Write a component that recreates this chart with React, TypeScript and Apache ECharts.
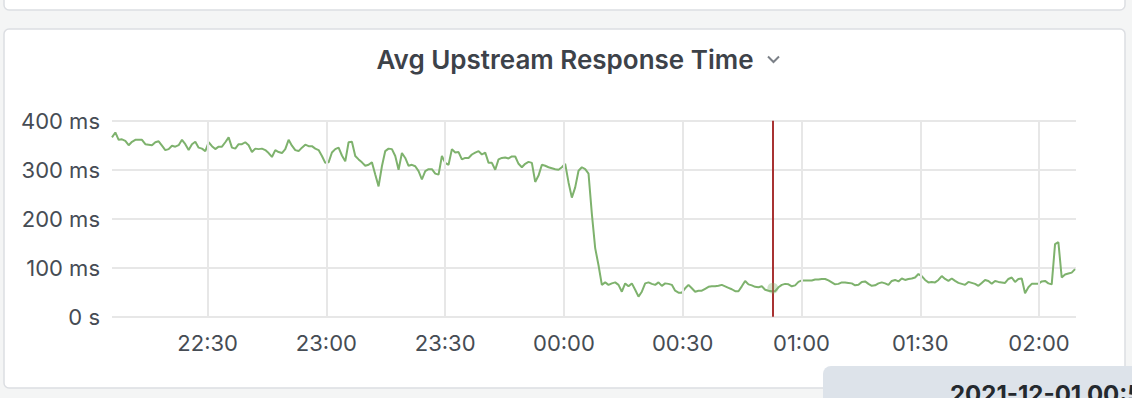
import React, { useEffect, useRef } from "react";
import * as echarts from "echarts";

const panelTitle = "Avg Upstream Response Time";
const seriesName = "Avg Upstream Response Time";
const tooltipTime = "2021-12-01 00:52:46";

// sampling of the series (uniform scrape interval)
const startTime = Date.UTC(2021, 10, 30, 22, 5, 51);
const sampleStepMs = 50500;
const axisEnd = Date.UTC(2021, 11, 1, 2, 9, 20);

// vertical grid / tick times
const gridTimes = [
  Date.UTC(2021, 10, 30, 22, 30),
  Date.UTC(2021, 10, 30, 23, 0),
  Date.UTC(2021, 10, 30, 23, 30),
  Date.UTC(2021, 11, 1, 0, 0),
  Date.UTC(2021, 11, 1, 0, 30),
  Date.UTC(2021, 11, 1, 1, 0),
  Date.UTC(2021, 11, 1, 1, 30),
  Date.UTC(2021, 11, 1, 2, 0),
];
const annotationTime = Date.UTC(2021, 11, 1, 0, 52, 46);
const hoverValue = 58;

const yMin = 0;
const yMax = 400;
const yStep = 100;

// response time (ms), 22:06 -> 22:56
const seg1 = [
  366, 376, 361, 362, 359, 350, 357, 361, 361, 361,
  352, 351, 350, 356, 358, 349, 340, 342, 349, 347,
  350, 361, 352, 340, 352, 357, 345, 343, 338, 356,
  348, 342, 347, 347, 356, 366, 345, 343, 352, 352,
  356, 350, 336, 343, 342, 343, 340, 334, 326, 340,
  336, 334, 342, 361, 349, 340, 338, 345, 351, 348,
];
// 22:56 -> 23:45
const seg2 = [
  348, 343, 340, 328, 314, 315, 335, 342, 345, 329,
  317, 356, 357, 328, 321, 315, 308, 310, 315, 290,
  266, 307, 338, 343, 342, 328, 300, 334, 324, 308,
  310, 307, 297, 280, 297, 301, 301, 292, 290, 328,
  314, 310, 342, 335, 336, 321, 324, 324, 331, 335,
  338, 331, 335, 314, 314, 300, 321, 324,
];
// 23:45 -> 00:35
const seg3 = [
  325, 323, 327, 327, 312, 305, 312, 316, 314, 275,
  288, 310, 308, 305, 303, 301, 300, 305, 312, 274,
  243, 264, 298, 305, 301, 292, 210, 140, 105, 65,
  70, 65, 68, 70, 65, 51, 68, 62, 68, 55,
  41, 51, 68, 70, 67, 65, 70, 63, 68, 67,
  65, 53, 49, 49, 58, 65, 58, 51, 53,
];
// 00:35 -> 01:22
const seg4 = [
  53, 57, 61, 62, 62, 63, 65, 62, 59, 56,
  52, 52, 62, 73, 66, 64, 61, 60, 62, 55,
  53, 52, 52, 60, 65, 67, 66, 62, 64, 71,
  74, 74, 74, 74, 76, 76, 77, 77, 74, 70,
  66, 67, 70, 70, 69, 68, 64, 65, 71, 72,
  67, 63, 64, 68, 70, 68,
];
// 01:22 -> 02:09
const seg5 = [
  65, 73, 75, 72, 78, 75, 77, 78, 80, 87,
  83, 75, 70, 71, 70, 75, 83, 77, 73, 78,
  73, 69, 67, 65, 71, 69, 67, 63, 69, 75,
  73, 67, 73, 71, 70, 69, 77, 80, 71, 77,
  78, 48, 60, 67, 67, 67, 72, 73, 68, 66,
  148, 152, 80, 86, 88, 90, 97,
];

const responseMs = [...seg1, ...seg2, ...seg3, ...seg4, ...seg5];

const pad = (n: number) => (n < 10 ? "0" + n : "" + n);
const fmtTime = (v: number) => {
  const d = new Date(v);
  return pad(d.getUTCHours()) + ":" + pad(d.getUTCMinutes());
};

export default function App() {
  const ref = useRef<HTMLDivElement>(null);

  useEffect(() => {
    document.body.style.margin = "0";
    if (!ref.current) return;
    const chart = echarts.init(ref.current, undefined, { renderer: "svg" });

    const data = responseMs.map((v, i) => [startTime + i * sampleStepMs, v]);
    const font = "Inter, 'Noto Sans', sans-serif";
    const textColor = "#464c54";
    const gridColor = "#e7e7e7";

    chart.setOption({
      animation: false,
      useUTC: true,
      backgroundColor: "#f4f5f5",
      grid: { left: 112, right: 56, top: 120.7, bottom: 81.3, containLabel: false },
      xAxis: {
        type: "time",
        min: startTime,
        max: axisEnd,
        axisLine: { show: false },
        axisTick: { show: false },
        splitLine: { show: false },
        axisLabel: { show: false },
      },
      yAxis: {
        type: "value",
        min: yMin,
        max: yMax,
        interval: yStep,
        axisLine: { show: false },
        axisTick: { show: false },
        splitLine: { show: true, lineStyle: { color: gridColor, width: 2 } },
        axisLabel: {
          color: textColor,
          fontSize: 22,
          fontFamily: font,
          margin: 12,
          formatter: (v: number) => (v === 0 ? "0 s" : v + " ms"),
        },
      },
      series: [
        {
          name: "grid",
          type: "line",
          data: [],
          z: 1,
          silent: true,
          markLine: {
            silent: true,
            symbol: ["none", "none"],
            label: {
              show: true,
              position: "start",
              distance: 15,
              color: textColor,
              fontSize: 22,
              fontFamily: font,
              formatter: (p: any) => fmtTime(p.value),
            },
            lineStyle: { color: gridColor, width: 2, type: "solid" },
            data: gridTimes.map((t) => ({ xAxis: t })),
          },
        },
        {
          name: seriesName,
          type: "line",
          data,
          z: 3,
          showSymbol: false,
          symbol: "none",
          lineStyle: { color: "#7eb26d", width: 2 },
          itemStyle: { color: "#7eb26d" },
        },
        {
          name: "annotation",
          type: "line",
          data: [],
          z: 4,
          silent: true,
          markLine: {
            silent: true,
            symbol: ["none", "none"],
            label: { show: false },
            lineStyle: { color: "#a83232", width: 2, type: "solid" },
            data: [{ xAxis: annotationTime }],
          },
          markPoint: {
            silent: true,
            symbol: "circle",
            symbolSize: 11,
            label: { show: false },
            itemStyle: { color: "rgba(126,178,109,0.35)" },
            data: [{ coord: [annotationTime, hoverValue] }],
          },
        },
      ],
      graphic: [
        {
          type: "rect",
          z: -10,
          shape: { x: 4, y: -20, width: 1121, height: 30, r: 5 },
          style: { fill: "#ffffff", stroke: "#dcdee2", lineWidth: 1.5 },
        },
        {
          type: "rect",
          z: -10,
          shape: { x: 4, y: 29, width: 1121, height: 359, r: 5 },
          style: { fill: "#ffffff", stroke: "#dcdee2", lineWidth: 1.5 },
        },
        {
          type: "text",
          z: 10,
          style: {
            x: 565,
            y: 59,
            text: panelTitle,
            fill: "#3d4249",
            fontSize: 26,
            fontWeight: 600,
            fontFamily: font,
            textAlign: "center",
            textVerticalAlign: "middle",
            align: "center",
            verticalAlign: "middle",
          },
        },
        {
          type: "polyline",
          z: 10,
          shape: { points: [[768, 56.5], [773.5, 62], [779, 56.5]] },
          style: { stroke: "#7b8087", lineWidth: 2, fill: "none" },
        },
        {
          type: "rect",
          z: 100,
          shape: { x: 823, y: 366, width: 330, height: 60, r: 8 },
          style: { fill: "#dde3ea" },
        },
        {
          type: "text",
          z: 101,
          style: {
            x: 950,
            y: 382,
            text: tooltipTime,
            fill: "#24292e",
            fontSize: 24,
            fontWeight: 700,
            fontFamily: font,
            textAlign: "left",
            textVerticalAlign: "top",
            align: "left",
            verticalAlign: "top",
          },
        },
      ],
    });

    return () => chart.dispose();
  }, []);

  return <div ref={ref} style={{ width: 1132, height: 398 }} />;
}
